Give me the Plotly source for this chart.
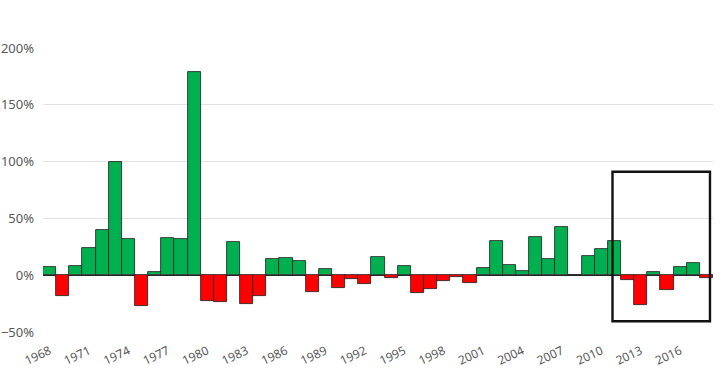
import plotly.graph_objects as go

years = list(range(1968, 2019))
returns_pct = [
    7, -18, 8.5, 24, 40, 100, 32, -27.5, 3, 33,
    32, 179, -23, -24, 29, -25.5, -18, 14, 15, 12.5,
    -14.5, 5.3, -11, -3, -7.5, 16, -2.4, 8.5, -15.5, -12,
    -5.5, -1.5, -6.5, 6, 30.5, 8.8, 4, 34, 14.5, 42,
    0, 16.5, 23, 30.5, -4.4, -26, 3, -13, 7.5, 11,
    -2.4,
]
highlight_years = [2011, 2018]
highlight_pct = [-40.5, 91]

values = [v / 100 for v in returns_pct]
colors = ["#00B050" if v >= 0 else "#FF0000" for v in values]

fig = go.Figure()
fig.add_trace(go.Bar(
    x=years, y=values,
    marker=dict(color=colors, line=dict(color="#1a1a1a", width=0.8)),
    width=1.0,
))

fig.add_shape(
    type="rect", xref="x", yref="y",
    x0=highlight_years[0] - 0.15, x1=highlight_years[1] + 0.27,
    y0=highlight_pct[0] / 100, y1=highlight_pct[1] / 100,
    line=dict(color="#111111", width=2.4), fillcolor="rgba(0,0,0,0)",
)

fig.update_layout(
    width=728, height=373,
    margin=dict(l=43, r=15, t=48, b=41),
    paper_bgcolor="white", plot_bgcolor="white",
    bargap=0, showlegend=False,
    font=dict(family="Noto Sans", size=12, color="#595959"),
)
fig.update_xaxes(
    range=[1967.5, 2018.5], tickmode="linear", tick0=1968, dtick=3,
    tickangle=-25, showgrid=False, zeroline=False, showline=False,
    ticks="", ticklabelstandoff=9,
    tickfont=dict(size=12, color="#595959"), automargin=False,
)
fig.update_yaxes(
    range=[-0.5, 2.0], tickmode="linear", tick0=-0.5, dtick=0.5,
    tickformat=".0%", showgrid=True, gridcolor="#E3E3E3", gridwidth=1,
    zeroline=True, zerolinecolor="#262626", zerolinewidth=1,
    showline=False, ticks="", ticklabelstandoff=8,
    tickfont=dict(size=13, color="#595959"), automargin=False,
)

fig.write_html(
    "out.html",
    config={"displayModeBar": False},
    post_script="document.body.style.margin='0';document.body.style.overflow='hidden';",
)
